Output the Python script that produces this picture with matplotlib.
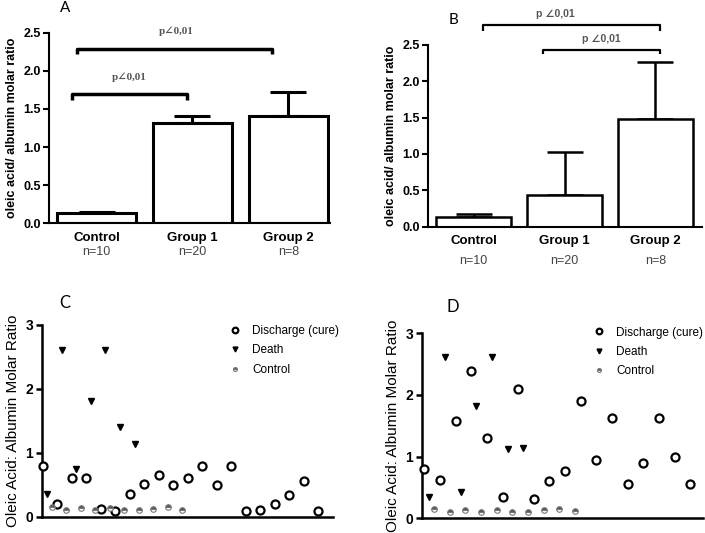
import numpy as np
import matplotlib
matplotlib.use("Agg")
import matplotlib.pyplot as plt
import matplotlib.transforms as mtransforms

plt.rcParams['font.family'] = ['Liberation Sans', 'DejaVu Sans']

# ---- data ----
groups = ['Control', 'Group 1', 'Group 2']
group_n = ['n=10', 'n=20', 'n=8']

a_means = [0.14, 1.32, 1.41]
a_err = [0.01, 0.09, 0.31]

b_means = [0.14, 0.44, 1.48]
b_err = [0.04, 0.59, 0.79]

c_cure = [0.80, 0.20, 0.60, 0.60, 0.12, 0.09, 0.36, 0.51, 0.66, 0.50,
          0.60, 0.80, 0.50, 0.80, 0.09, 0.11, 0.20, 0.34, 0.56, 0.09]
c_death = [0.36, 2.61, 0.75, 1.81, 2.61, 1.41, 1.13]
c_control = [0.15, 0.10, 0.13, 0.10, 0.14, 0.10, 0.10, 0.12, 0.15, 0.10]

d_cure = [0.80, 0.62, 1.58, 2.39, 1.30, 0.34, 2.10, 0.32, 0.60, 0.77,
          1.90, 0.94, 1.62, 0.56, 0.90, 1.62, 1.00, 0.56]
d_death = [0.35, 2.62, 0.42, 1.82, 2.62, 1.12, 1.14]
d_control = [0.15, 0.11, 0.135, 0.11, 0.14, 0.11, 0.11, 0.13, 0.155, 0.12]

fig = plt.figure(figsize=(7.05, 5.33), dpi=100)


def bar_panel(rect, means, errs, lw, xlim, n_offset, label_y):
    ax = fig.add_axes(rect)
    x = np.arange(len(groups))
    ax.bar(x, means, width=0.83, color='white', edgecolor='black', linewidth=lw, zorder=2)
    ax.errorbar(x, means, yerr=[np.zeros(len(errs)), errs], fmt='none', ecolor='black',
                elinewidth=lw, capsize=13, capthick=lw, zorder=1)
    ax.set_xlim(*xlim)
    ax.set_ylim(0, 2.5)
    ax.set_yticks(np.arange(0, 2.51, 0.5))
    ax.set_yticklabels([f'{v:.1f}' for v in np.arange(0, 2.51, 0.5)], fontweight='bold', fontsize=9)
    ax.set_xticks(x)
    ax.set_xticklabels(groups, fontweight='bold', fontsize=9.5)
    ax.tick_params(axis='x', length=0, pad=6)
    ax.tick_params(axis='y', length=4, width=1.5, direction='out', pad=2)
    for s in ['top', 'right']:
        ax.spines[s].set_visible(False)
    for s in ['left', 'bottom']:
        ax.spines[s].set_linewidth(1.5)
    ax.set_ylabel('oleic acid/ albumin molar ratio', fontweight='bold', fontsize=9, labelpad=label_y)
    trans = mtransforms.blended_transform_factory(ax.transData, ax.transAxes)
    for xi, t in zip(x, group_n):
        ax.text(xi, n_offset, t, transform=trans, ha='center', va='center',
                fontsize=9, color='#444444')
    return ax


def bracket(ax, x0, x1, y, tip, txt, tx, ty, lw, family, size):
    ax.plot([x0, x0, x1, x1], [y - tip, y, y, y - tip], color='black', lw=lw,
            clip_on=False, solid_capstyle='butt')
    ax.text(tx, ty, txt, ha='center', va='center', fontsize=size, fontweight='bold',
            color='#555555', family=family, clip_on=False)


# ---- panel A ----
axA = bar_panel([0.070, 0.581, 0.398, 0.358], a_means, a_err, 2.2, (-0.494, 2.435), -0.15, 4)
bracket(axA, -0.26, 0.94, 1.69, 0.07, 'p\u22200,01', 0.34, 1.91, 2.5,
        ['Liberation Serif', 'DejaVu Serif'], 8)
bracket(axA, -0.21, 1.83, 2.28, 0.06, 'p\u22200,01', 0.83, 2.52, 2.5,
        ['Liberation Serif', 'DejaVu Serif'], 8)
fig.text(65 / 705, 1 - 8 / 533, 'A', fontsize=11, family='Lato', ha='center', va='center')

# ---- panel B ----
axB = bar_panel([0.6075, 0.5747, 0.388, 0.341], b_means, b_err, 1.8, (-0.5, 2.51), -0.19, 4)
bracket(axB, 0.106, 2.05, 2.775, 0.08, 'p \u22200,01', 0.895, 2.93, 1.6,
        ['Liberation Sans', 'DejaVu Sans'], 7.5)
bracket(axB, 0.76, 2.05, 2.43, 0.06, 'p \u22200,01', 1.40, 2.58, 1.6,
        ['Liberation Sans', 'DejaVu Sans'], 7.5)
fig.text(453 / 705, 1 - 20 / 533, 'B', fontsize=11, family='Lato', ha='center', va='center')


# ---- panels C and D ----
def scatter_panel(rect, cure, death, control, xlim, letter, letter_xy, leg_anchor):
    ax = fig.add_axes(rect)
    ax.plot(np.arange(len(cure)), cure, 'o', ms=5.8, mfc='white', mec='black', mew=1.6,
            ls='none', label='Discharge (cure)', clip_on=False, zorder=3)
    ax.plot(np.arange(len(death)) + 0.33, death, 'v', ms=5, color='black',
            ls='none', label='Death', clip_on=False, zorder=3)
    ax.plot(np.arange(len(control)) + 0.62, control, 'o', ms=4, fillstyle='top',
            mfc='#555555', mfcalt='white', mec='#777777', mew=0.8,
            ls='none', label='Control', clip_on=False, zorder=3)
    ax.set_xlim(*xlim)
    ax.set_ylim(0, 3)
    ax.set_yticks([0, 1, 2, 3])
    ax.set_yticklabels(['0', '1', '2', '3'], fontweight='bold', fontsize=10)
    ax.set_xticks([])
    ax.tick_params(axis='y', length=4, width=1.8, direction='out', pad=2)
    for s in ['top', 'right']:
        ax.spines[s].set_visible(False)
    for s in ['left', 'bottom']:
        ax.spines[s].set_linewidth(1.8)
    ax.set_ylabel('Oleic Acid: Albumin Molar Ratio', fontsize=11, labelpad=4)
    ax.legend(loc='upper left', bbox_to_anchor=leg_anchor, frameon=False, fontsize=8.5,
              handletextpad=0.85, labelspacing=0.62, handlelength=1.2, borderaxespad=0,
              markerscale=0.7)
    fig.text(letter_xy[0] / 705, 1 - letter_xy[1] / 533, letter, fontsize=12,
             family='Lato', ha='center', va='center')
    return ax


axC = scatter_panel([0.0591, 0.0306, 0.413, 0.3597], c_cure, c_death, c_control,
                    (-0.07, 20.0), 'C', (65, 303), (0.624, 1.024))
axD = scatter_panel([0.598, 0.0276, 0.399, 0.347], d_cure, d_death, d_control,
                    (-0.17, 17.8), 'D', (453, 307), (0.589, 1.062))

fig.savefig('out.png', dpi=100)
